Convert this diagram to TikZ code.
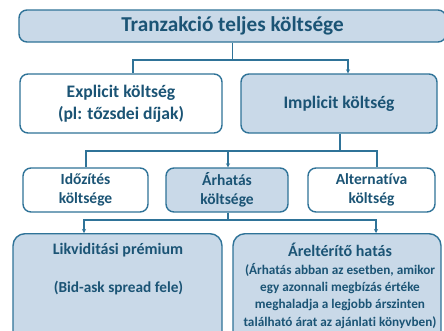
\documentclass[tikz,border=0pt]{standalone}
\usepackage{fontspec}
\setmainfont{Carlito}[RawFeature=-liga]
\usetikzlibrary{arrows.meta}
\definecolor{bfill}{HTML}{C9D9E8}
\definecolor{bline}{HTML}{2F7398}
\definecolor{btext}{HTML}{1B5475}
\tikzset{
  box/.style={draw=bline, line width=1.4pt, rounded corners=8pt, text=btext, align=center, inner sep=0pt},
  bluebox/.style={box, fill=bfill},
  whitebox/.style={box, fill=white},
  lbl/.style={text=btext, align=center, inner sep=0pt},
  conn/.style={draw=bline, line width=1.3pt},
  arr/.style={conn, -{Stealth[length=4pt,width=4pt]}},
}
\begin{document}
\begin{tikzpicture}[x=1pt,y=-1pt]
\useasboundingbox (0,0) rectangle (444,330);
\clip (0,0) rectangle (444,330);
\fill[white] (0,0) rectangle (444,330);
% top
\node[bluebox, minimum width=427pt, minimum height=32pt, font=\bfseries\fontsize{21.2}{22}\selectfont] (top) at (232.5,26) {Tranzakció teljes költsége};
% level 2
\node[whitebox, minimum width=202pt, minimum height=59pt, font=\bfseries\fontsize{17.6}{22}\selectfont] (expl) at (121,103.5) {Explicit költség\\(pl: tőzsdei díjak)};
\node[bluebox, minimum width=196pt, minimum height=59pt, font=\bfseries\fontsize{17.6}{22}\selectfont] (impl) at (339,103.5) {Implicit költség};
% level 3
\node[whitebox, minimum width=125pt, minimum height=44pt, font=\bfseries\fontsize{15.5}{19}\selectfont] (idoz) at (85.5,190) {Időzítés\\költsége};
\node[bluebox, minimum width=122pt, minimum height=44pt, font=\bfseries\fontsize{15.5}{19}\selectfont] (arh) at (227,190) {Árhatás\\költsége};
\node[whitebox, minimum width=127pt, minimum height=44pt, font=\bfseries\fontsize{15.5}{19}\selectfont] (alt) at (371.5,190) {Alternatíva\\költség};
% level 4
\node[bluebox, rounded corners=12pt, minimum width=209pt, minimum height=110pt, anchor=north] (likv) at (117.5,233) {};
\node[bluebox, rounded corners=12pt, minimum width=208pt, minimum height=110pt, anchor=north] (arel) at (337,233) {};
\node[lbl, font=\bfseries\fontsize{16}{19}\selectfont] (likvt) at (118,250) {Likviditási prémium};
\node[lbl, font=\bfseries\fontsize{15.3}{18}\selectfont] (likvs) at (118.5,288) {(Bid-ask spread fele)};
\node[lbl, font=\bfseries\fontsize{16}{19}\selectfont] (arelt) at (340,250) {Áreltérítő hatás};
\node[lbl, font=\bfseries\fontsize{13.2}{17.3}\selectfont, anchor=north] (arels) at (340,263) {(Árhatás abban az esetben, amikor\\egy azonnali megbízás értéke\\meghaladja a legjobb árszinten\\található árat az ajánlati könyvben)};
% connectors
\coordinate (j1) at (232.5,60);
\draw[conn] (top.south -| j1) -- (j1);
\draw[conn] (j1) -- (133,60) -- (133,60 |- expl.north);
\draw[arr] (j1) -- (348,60) -- (348,60 |- impl.north);
\coordinate (j2) at (340,151);
\draw[conn] (impl.south -| j2) -- (j2);
\draw[conn] (j2) -- (86,151) -- (86,151 |- idoz.north);
\draw[arr] (228,151) -- (228,151 |- arh.north);
\draw[conn] (j2) -- (377,151) -- (377,151 |- alt.north);
\coordinate (j3) at (228,220);
\draw[conn] (arh.south -| j3) -- (j3);
\draw[arr] (j3) -- (84,220) -- (84,220 |- likv.north);
\draw[arr] (j3) -- (376,220) -- (376,220 |- arel.north);
\end{tikzpicture}
\end{document}
